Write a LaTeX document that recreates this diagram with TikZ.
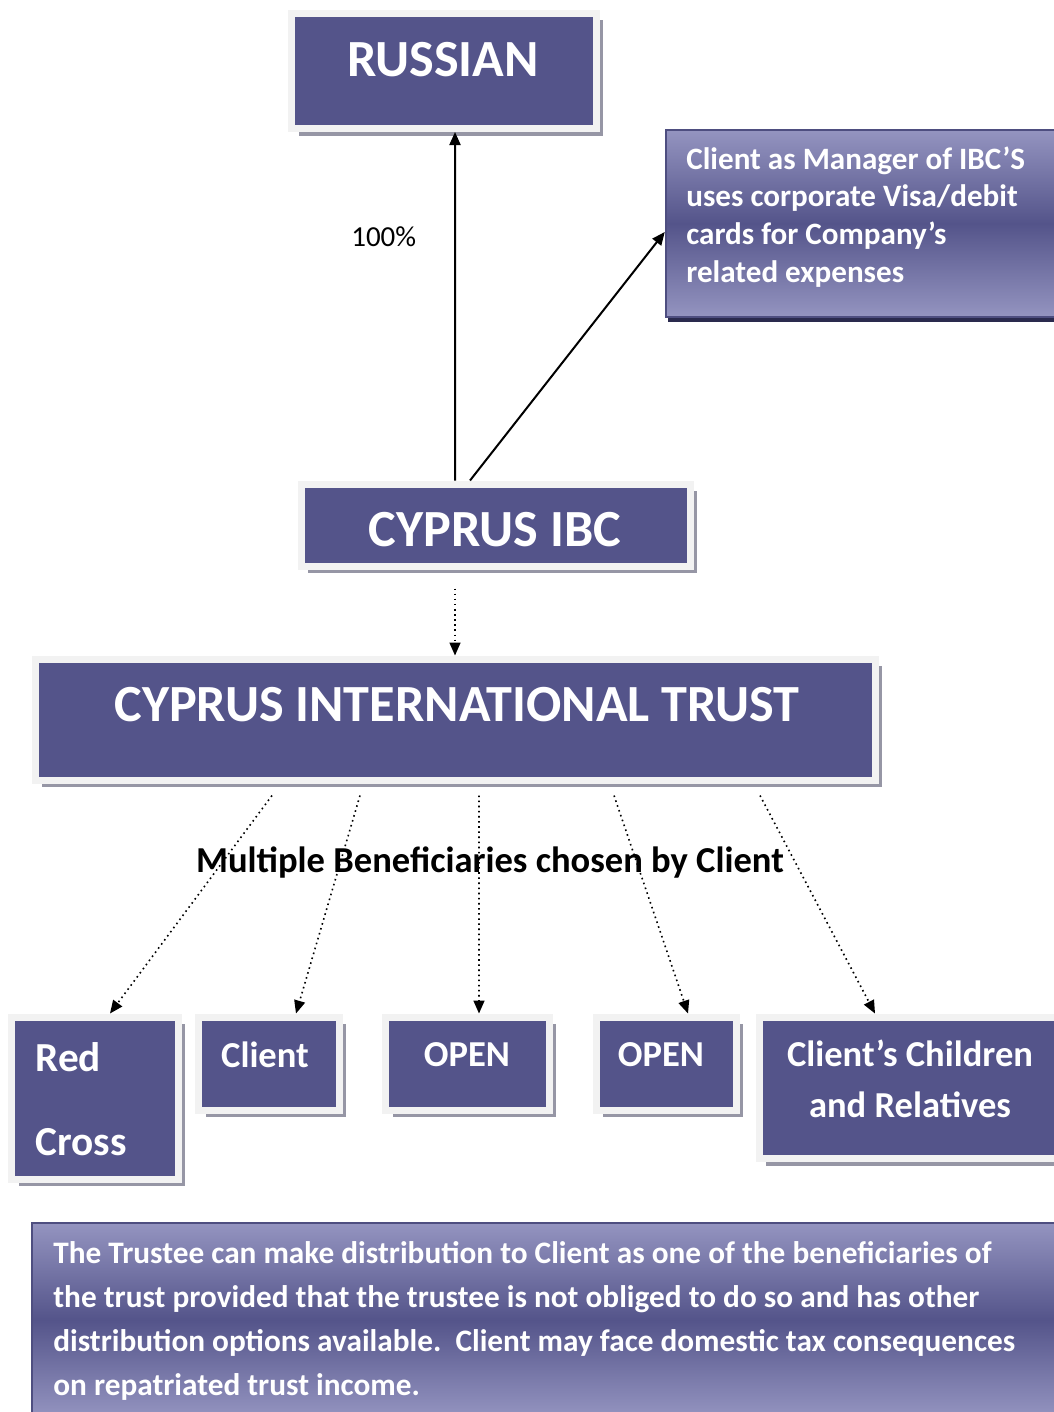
\documentclass[tikz,border=0pt]{standalone}
\usepackage{fontspec}
\setmainfont{Carlito}
\usetikzlibrary{arrows.meta,shadows,positioning}

\newlength\pu
\setlength\pu{0.2mm}
\definecolor{boxfill}{RGB}{84,84,138}
\definecolor{boxframe}{RGB}{242,242,242}
\definecolor{boxshade}{RGB}{150,150,165}
\definecolor{notelight}{RGB}{148,148,192}
\definecolor{noteedge}{RGB}{78,78,128}
\definecolor{notedark}{RGB}{42,42,78}

\begin{document}
\begin{tikzpicture}[x=0.2mm, y=-0.2mm, >={Triangle[length=2.6mm,width=2.2mm]},
   box/.style={rectangle, fill=boxfill, draw=boxframe, line width=7\pu, outer sep=3.5\pu,
      drop shadow={shadow xshift=7\pu, shadow yshift=-7\pu, fill=boxshade, opacity=1}},
   note/.style={rectangle, draw=noteedge, line width=2.5\pu,
      top color=notelight, bottom color=notelight, middle color=boxfill,
      drop shadow={shadow xshift=2\pu, shadow yshift=-5\pu, fill=notedark, opacity=1}},
   big/.style={text=white, font=\bfseries\fontsize{29.7}{36}\selectfont},
   small/.style={text=white, font=\bfseries\fontsize{20.8}{25}\selectfont},
   link/.style={line width=0.4mm},
   pick/.style={dotted, line width=0.32mm}]
   \useasboundingbox (0,0) rectangle (1054,1412);

   \node (rus) at (443.75,71) [box, minimum width=304.5\pu, minimum height=115\pu] {};
   \node (rus-t) at (443,60) [big] {RUSSIAN};
   \node (mgr) at (864,223.5) [note, minimum width=396\pu, minimum height=187\pu] {};
   \node (mgr-t) at (686,217) [anchor=west, inner sep=0, align=left, text=white,
      font=\bfseries\fontsize{17.7}{21.5}\selectfont]
      {Client as Manager of IBC’S\\uses corporate Visa/debit\\cards for Company’s\\related expenses};
   \node (ibc) at (495.5,525) [box, minimum width=389\pu, minimum height=82\pu] {};
   \node (ibc-t) at (495,530) [big] {CYPRUS IBC};
   \node (cit) at (455,719.5) [box, minimum width=840\pu, minimum height=121\pu] {};
   \node (cit-t) at (457,705) [big] {CYPRUS INTERNATIONAL TRUST};

   \node (red) at (94.75,1098) [box, minimum width=166.5\pu, minimum height=162\pu] {};
   \node (red-a) at (35,1057) [small, anchor=west, inner sep=0, font=\bfseries\fontsize{23.5}{28}\selectfont] {Red};
   \node (red-b) at (35,1142) [small, anchor=west, inner sep=0, font=\bfseries\fontsize{23.5}{28}\selectfont] {Cross};
   \node (cli) at (268.75,1063.5) [box, minimum width=140.5\pu, minimum height=93\pu] {};
   \node (cli-t) at (265,1055) [small] {Client};
   \node (op1) at (467.25,1063.5) [box, minimum width=163.5\pu, minimum height=93\pu] {};
   \node (op1-t) at (467,1055) [small] {OPEN};
   \node (op2) at (666,1063.5) [box, minimum width=140\pu, minimum height=93\pu] {};
   \node (op2-t) at (661,1055) [small] {OPEN};
   \node (chl) at (908.5,1087.75) [box, minimum width=299\pu, minimum height=141.5\pu] {};
   \node (chl-t) at (910,1078.5) [small, align=center, font=\bfseries\fontsize{20.8}{29}\selectfont]
      {Client’s Children\\and Relatives};

   \node (trustee) at (546,1320) [note, minimum width=1028\pu, minimum height=194\pu] {};
   \node (trustee-t) at (53,1321) [anchor=west, inner sep=0, align=left, text=white,
      font=\bfseries\fontsize{17.8}{25}\selectfont]
      {The Trustee can make distribution to Client as one of the beneficiaries of\\
       the trust provided that the trustee is not obliged to do so and has other\\
       distribution options available.\ \ Client may face domestic tax consequences\\
       on repatriated trust income.};

   \draw ([xshift=-40.5\pu]ibc.north)[->, link] -- node[pos=0.7, left=32\pu, font=\fontsize{16.5}{20}\selectfont]{100\%} ([xshift=11.25\pu]rus.south);
   \draw ([xshift=-25.5\pu]ibc.north)[->, link] -- ([yshift=-8.5\pu]mgr.west);
   \draw ([xshift=-40.5\pu, yshift=-19\pu]ibc.south)[->, pick] -- (cit.north);

   \node (multi) at (490,863) [font=\bfseries\fontsize{20.8}{25}\selectfont] {Multiple Beneficiaries chosen by Client};
   \draw ([xshift=-183\pu, yshift=-12\pu]cit.south)[->, pick] -- ([xshift=15.25\pu]red.north);
   \draw ([xshift=-95\pu, yshift=-12\pu]cit.south)[->, pick] -- ([xshift=27.25\pu]cli.north);
   \draw ([xshift=24\pu, yshift=-12\pu]cit.south)[->, pick] -- ([xshift=11.75\pu]op1.north);
   \draw ([xshift=159\pu, yshift=-12\pu]cit.south)[->, pick] -- ([xshift=22\pu]op2.north);
   \draw ([xshift=305\pu, yshift=-12\pu]cit.south)[->, pick] -- ([xshift=-33.5\pu]chl.north);
\end{tikzpicture}
\end{document}
